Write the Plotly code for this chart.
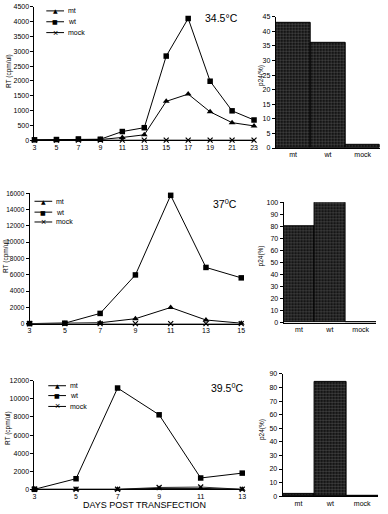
import plotly.graph_objects as go

W, H = 388, 514

# ---------------- data ----------------
series = ["mt", "wt", "mock"]
groups = ["mt", "wt", "mock"]

days1 = [3, 5, 7, 9, 11, 13, 15, 17, 19, 21, 23]
mt1 = [5, 5, 10, 20, 90, 180, 1310, 1555, 955, 590, 480]
wt1 = [10, 20, 40, 30, 290, 420, 2840, 4110, 1990, 990, 680]
mock1 = [0, 0, 0, 0, 0, 0, 0, 0, 0, 0, 0]
p24_1 = [43, 36, 1]

days2 = [3, 5, 7, 9, 11, 13, 15]
mt2 = [0, 20, 100, 600, 1980, 440, 50]
wt2 = [0, 50, 1250, 5980, 15760, 6900, 5620]
mock2 = [0, 0, 0, 0, 0, 0, 0]
p24_2 = [80, 100, 0.6]

days3 = [3, 5, 7, 9, 11, 13]
mt3 = [0, 0, 0, 100, 100, 0]
wt3 = [0, 1170, 11200, 8240, 1250, 1790]
mock3 = [0, 0, 0, 200, 250, 0]
p24_3 = [1.5, 84, 0.6]

titles = ["34.5°C", "37<sup>0</sup>C", "39.5<sup>0</sup>C"]

FONT = "Liberation Sans, Arial, sans-serif"

def xd(a, b):
    return [a / W, b / W]

def yd(top, bottom):
    return [1 - bottom / H, 1 - top / H]

fig = go.Figure()

styles = {
    "mt": dict(symbol="triangle-up", size=6, color="black"),
    "wt": dict(symbol="square", size=5.5, color="black"),
    "mock": dict(symbol="x-thin", size=5, color="black", line=dict(width=1.2, color="black")),
}
linecol = {"mt": "black", "wt": "black", "mock": "#333"}

panels = [
    (days1, {"mt": mt1, "wt": wt1, "mock": mock1}, p24_1, "x", "y", "x4", "y4"),
    (days2, {"mt": mt2, "wt": wt2, "mock": mock2}, p24_2, "x2", "y2", "x5", "y5"),
    (days3, {"mt": mt3, "wt": wt3, "mock": mock3}, p24_3, "x3", "y3", "x6", "y6"),
]

for days, vals, p24, xa, ya, bxa, bya in panels:
    for s in ["mock", "mt", "wt"]:
        fig.add_trace(go.Scatter(
            x=days, y=vals[s], mode="lines+markers", name=s,
            line=dict(color=linecol[s], width=1),
            marker=styles[s], xaxis=xa, yaxis=ya,
            cliponaxis=False, showlegend=False))
    fig.add_trace(go.Bar(
        x=groups, y=p24, xaxis=bxa, yaxis=bya, width=1, showlegend=False,
        marker=dict(color="#151515", line=dict(color="black", width=1),
                    pattern=dict(shape="+", fgcolor="#6e6e6e", bgcolor="#151515",
                                 size=3, solidity=0.2, fillmode="replace"))))

tickfont = dict(family=FONT, size=7, color="black")

def line_x(dom, days, anchor):
    return dict(domain=dom, anchor=anchor, range=[days[0], days[-1]], tickvals=days,
                showline=True, linecolor="black", linewidth=1, ticks="",
                showgrid=False, zeroline=False, tickfont=tickfont, ticklen=0)

def y_ax(dom, rng, dtick, anchor, fs=7):
    return dict(domain=dom, anchor=anchor, range=rng, dtick=dtick, showline=True,
                linecolor="black", linewidth=1, ticks="outside", ticklen=3,
                tickcolor="black", tickwidth=1, showgrid=False, zeroline=False,
                tickfont=dict(family=FONT, size=fs, color="black"), tickformat="d")

def bar_x(dom, anchor):
    return dict(domain=dom, anchor=anchor, type="category", range=[-0.5, 2.5],
                showline=True, linecolor="black", linewidth=1, ticks="",
                showgrid=False, tickfont=tickfont)

fig.update_layout(
    width=W, height=H, margin=dict(l=0, r=0, t=0, b=0),
    paper_bgcolor="white", plot_bgcolor="white", bargap=0,
    font=dict(family=FONT, color="black"),
    xaxis=line_x(xd(33, 256), days1, "y"),
    yaxis=y_ax(yd(3, 138), [0, 4500], 500, "x"),
    xaxis2=line_x(xd(28, 243), days2, "y2"),
    yaxis2=y_ax(yd(192, 324), [0, 16000], 2000, "x2", fs=6.5),
    xaxis3=line_x(xd(33, 244), days3, "y3"),
    yaxis3=y_ax(yd(382, 492), [0, 12000], 2000, "x3"),
    xaxis4=bar_x(xd(278, 384), "y4"),
    yaxis4=y_ax(yd(13, 146), [0, 45], 5, "x4"),
    xaxis5=bar_x(xd(286, 380), "y5"),
    yaxis5=y_ax(yd(201, 323), [0, 100], 10, "x5"),
    xaxis6=bar_x(xd(285, 382), "y6"),
    yaxis6=y_ax(yd(375, 499), [0, 90], 10, "x6"),
)

ann = []
shapes = []

def add_text(x, y, text, size=7, angle=0, xanchor="center", family=FONT):
    ann.append(dict(x=x / W, y=1 - y / H, xref="paper", yref="paper", text=text,
                    showarrow=False, xanchor=xanchor, yanchor="middle", textangle=angle,
                    font=dict(family=family, size=size, color="black")))

# titles
for (cx, cy), t in zip([(223, 14), (227, 202), (229, 389)], titles):
    add_text(cx, cy, t, size=10.5)

# y-axis titles
for cx, cy in [(7, 68), (3.5, 255), (6, 430)]:
    add_text(cx, cy, "RT (cpm/ul)", size=6.5, angle=-90)
for cx, cy in [(263, 72), (263, 255), (264, 431)]:
    add_text(cx, cy, "p24(%)", size=6.5, angle=-90)

add_text(145, 508, "DAYS POST TRANSFECTION", size=9)

# manual legends
glyph = {"mt": ("▲", 6), "wt": ("■", 6), "mock": ("×", 9)}
legend_pos = [(45, 63, [7, 18, 29]), (33, 51, [200, 211, 221]), (47, 65, [387, 397, 408])]
for x0, x1, ys in legend_pos:
    for s, yy in zip(series, ys):
        shapes.append(dict(type="line", xref="paper", yref="paper", x0=x0 / W, x1=x1 / W,
                           y0=1 - yy / H, y1=1 - yy / H, line=dict(color="black", width=1)))
        g, gs = glyph[s]
        add_text((x0 + x1) / 2, yy, g, size=gs, family="DejaVu Sans" if s != "mock" else FONT)
        add_text(x1 + 2, yy, s, size=7, xanchor="left")

fig.update_layout(annotations=ann, shapes=shapes)

fig.write_html("out.html")
